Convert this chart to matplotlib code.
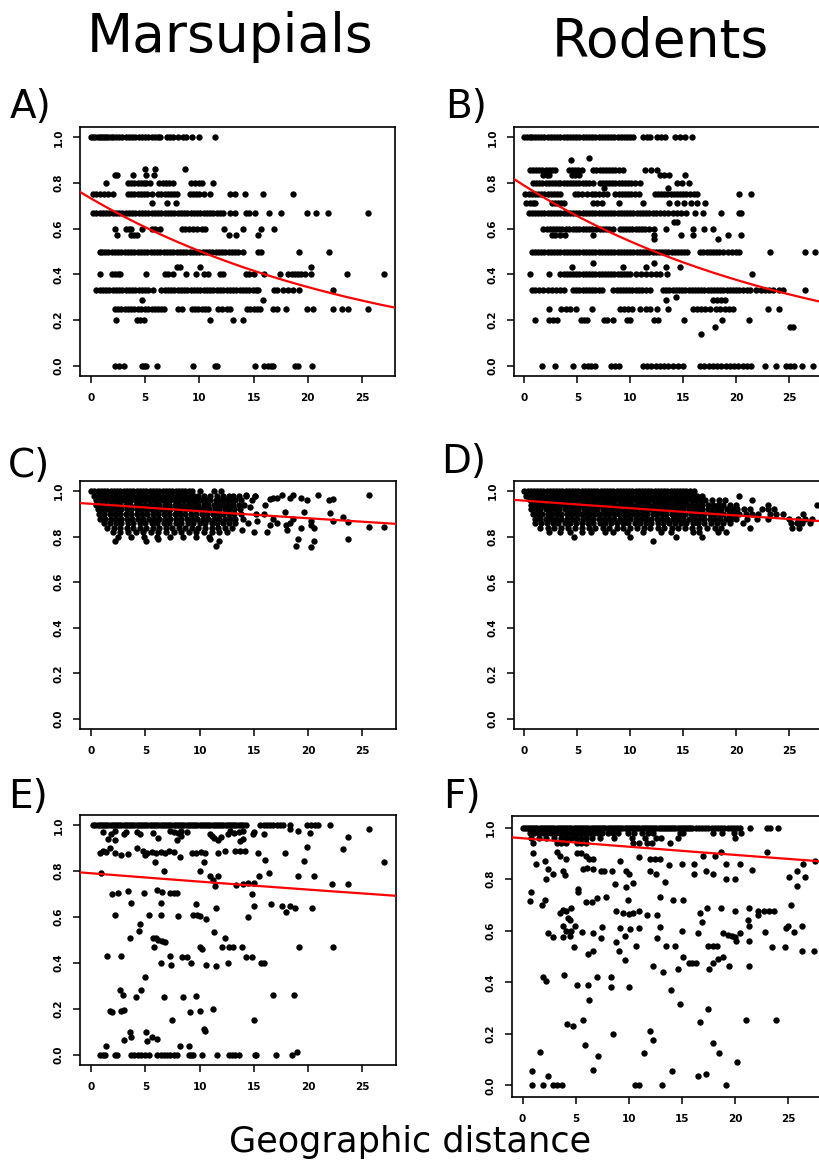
import numpy as np
import matplotlib
matplotlib.use("Agg")
import matplotlib.pyplot as plt

# ---- data ---------------------------------------------------------------
# rows: (similarity value, [geographic distances])
A_ROWS = [
    (1.0, [0.0, 0.2, 0.4, 0.6, 0.8, 1.0, 1.2, 1.4, 1.6, 1.8, 2.0, 2.3, 2.6, 2.9, 3.2, 3.5, 3.8, 4.1, 4.4,
           4.7, 5.0, 5.3, 5.6, 5.9, 6.2, 6.4, 7.0, 7.3, 7.6, 8.0, 8.5, 8.8, 9.3, 10.0, 11.4]),
    (0.86, [5.0, 5.9, 8.7]),
    (0.833, [2.2, 2.4, 3.9, 5.1, 5.8]),
    (0.8, [1.4, 3.4, 3.7, 4.0, 4.3, 4.6, 4.9, 5.1, 5.4, 6.3, 6.6, 6.9, 7.2, 7.6, 9.2, 9.6, 10.0, 10.2, 11.3]),
    (0.75, [0.2, 0.5, 0.8, 1.2, 1.6, 2.0, 3.4, 3.7, 4.0, 4.3, 4.6, 4.9, 5.2, 5.6, 6.2, 6.5, 6.8, 7.1, 7.4,
            7.7, 7.9, 9.1, 9.4, 9.7, 10.0, 10.4, 11.0, 12.8, 13.3, 14.2, 15.9, 18.6]),
    (0.714, [5.6, 7.0, 7.8]),
    (0.667, [0.2, 0.5, 0.8, 1.1, 1.4, 1.7, 2.0, 2.3, 2.6, 2.9, 3.2, 3.5, 3.8, 4.1, 4.4, 4.7, 5.0, 5.3, 5.6,
             5.9, 6.2, 6.5, 6.8, 7.1, 7.4, 7.7, 8.0, 8.3, 8.6, 8.9, 9.2, 9.5, 9.8, 10.1, 10.4, 10.7, 11.0,
             11.3, 11.6, 11.9, 12.2, 12.8, 13.3, 14.3, 14.6, 15.1, 16.4, 17.5, 19.9, 20.8, 21.9, 25.6]),
    (0.6, [2.2, 3.2, 3.5, 3.7, 4.7, 5.6, 5.9, 6.4, 8.4, 8.7, 9.0, 9.4, 9.8, 10.2, 10.5, 12.3, 14.0, 15.7, 16.9]),
    (0.571, [2.4, 3.7, 4.0, 4.2, 12.7, 13.4, 15.4]),
    (0.5, [0.8, 1.0, 1.3, 1.6, 1.9, 2.2, 2.5, 2.8, 3.1, 3.4, 3.7, 4.0, 4.3, 4.6, 4.9, 5.2, 5.5, 5.8, 6.1,
           6.4, 6.7, 7.0, 7.3, 7.6, 7.9, 8.2, 8.5, 8.8, 9.1, 9.4, 9.7, 10.0, 10.3, 10.6, 10.9, 11.2, 11.5,
           11.8, 12.1, 12.4, 12.7, 13.0, 13.3, 13.6, 14.0, 15.4, 15.7, 19.2, 22.0]),
    (0.43, [7.9, 8.2, 10.1, 20.3]),
    (0.4, [0.8, 1.9, 2.2, 2.5, 2.7, 5.1, 6.8, 7.1, 7.6, 8.8, 9.7, 10.4, 10.8, 11.9, 12.2, 14.3, 14.6, 15.0,
           16.0, 17.4, 18.2, 18.5, 18.8, 19.1, 19.4, 19.7, 20.3, 23.6, 27.0]),
    (0.333, [0.5, 0.8, 1.1, 1.4, 1.7, 2.0, 2.3, 2.6, 2.9, 3.2, 3.5, 3.8, 4.1, 4.4, 4.7, 5.0, 5.3, 5.7, 6.5,
             6.8, 7.1, 7.4, 7.7, 8.0, 8.3, 8.6, 8.9, 9.2, 9.5, 9.8, 10.1, 10.4, 10.7, 11.0, 11.3, 11.6, 11.9,
             12.2, 12.5, 12.8, 13.1, 13.4, 13.7, 14.0, 14.3, 14.6, 14.9, 15.2, 15.4, 16.9, 17.2, 17.7, 18.2,
             18.6, 19.2, 22.3]),
    (0.286, [4.7, 15.9]),
    (0.25, [2.2, 2.5, 2.8, 3.1, 3.4, 3.7, 4.0, 4.3, 4.6, 5.0, 5.3, 5.6, 5.9, 6.2, 6.5, 6.7, 8.0, 8.4, 9.3,
            9.6, 9.9, 10.2, 10.5, 10.8, 11.7, 12.1, 12.5, 12.8, 14.4, 14.7, 15.0, 15.3, 15.6, 16.8, 17.2,
            18.0, 19.9, 20.5, 22.3, 23.2, 23.7, 25.6]),
    (0.2, [2.3, 4.2, 4.5, 4.9, 11.0, 13.1, 14.0]),
    (0.0, [2.2, 2.6, 3.0, 4.7, 4.9, 5.1, 6.1, 9.4, 11.4, 11.6, 15.1, 16.0, 16.3, 16.6, 16.8, 18.8, 19.1, 20.4]),
]

B_ROWS = [
    (1.0, [0.0, 0.25, 0.5, 0.75, 1.0, 1.3, 1.6, 1.9, 2.2, 2.5, 2.8, 3.1, 3.4, 3.7, 4.0, 4.3, 4.6, 4.9, 5.2,
           5.5, 5.8, 6.1, 6.4, 6.7, 7.0, 7.3, 7.6, 7.9, 8.2, 8.5, 8.8, 9.1, 9.4, 9.7, 10.0, 10.3, 11.2,
           11.6, 11.9, 12.5, 12.9, 13.3, 14.2, 14.7, 15.2, 15.8]),
    (0.91, [6.1]),
    (0.9, [4.4]),
    (0.857, [0.5, 0.8, 1.1, 1.4, 1.7, 2.0, 2.3, 2.6, 2.9, 4.2, 4.5, 4.8, 5.1, 5.4, 6.5, 6.8, 7.1, 7.4, 7.7,
             8.0, 8.3, 8.6, 8.9, 9.3, 11.4, 12.0, 12.5]),
    (0.833, [1.8, 2.1, 2.3, 4.5, 4.8, 5.2, 12.8, 13.2, 13.7, 15.2]),
    (0.8, [0.8, 1.1, 1.4, 1.7, 2.0, 2.3, 2.6, 2.9, 3.2, 3.4, 3.7, 4.0, 4.3, 4.6, 4.9, 5.2, 5.5, 5.8, 6.1,
           6.5, 7.1, 7.4, 7.7, 8.0, 8.3, 8.6, 8.9, 9.2, 9.5, 9.8, 10.1, 10.4, 10.9, 14.4, 14.9, 15.5]),
    (0.78, [7.5, 13.6]),
    (0.75, [0.1, 0.4, 0.7, 1.0, 1.3, 1.6, 1.9, 2.2, 2.5, 2.8, 3.1, 3.4, 4.8, 5.1, 5.4, 5.9, 6.4, 6.7, 7.0,
            7.4, 7.8, 8.6, 8.9, 9.2, 9.5, 9.8, 10.1, 10.4, 10.8, 12.3, 12.6, 12.9, 13.2, 13.5, 13.8, 14.1,
            14.4, 14.7, 15.0, 15.3, 15.6, 16.0, 16.3, 20.3, 21.4]),
    (0.714, [0.2, 0.5, 0.8, 1.0, 2.6, 2.9, 3.2, 3.5, 3.7, 6.5, 6.9, 7.3, 8.9, 11.2, 13.7, 14.4, 15.1, 15.7,
             16.3, 17.1]),
    (0.667, [0.4, 0.7, 1.0, 1.3, 1.6, 1.9, 2.2, 2.5, 2.8, 3.1, 3.4, 3.7, 4.0, 4.3, 4.6, 4.9, 5.2, 5.5, 5.8,
             6.1, 6.4, 6.7, 7.0, 7.3, 7.6, 7.9, 8.2, 8.5, 8.8, 9.1, 9.4, 9.7, 10.0, 10.3, 10.6, 10.9, 11.2,
             11.5, 11.8, 12.1, 12.4, 12.8, 13.2, 13.6, 14.0, 14.4, 14.8, 15.3, 16.1, 16.9, 18.6, 20.3, 20.5]),
    (0.63, [14.1, 14.4]),
    (0.6, [1.8, 2.1, 2.4, 2.7, 3.0, 3.3, 3.6, 3.9, 4.2, 4.6, 4.9, 5.2, 5.5, 5.8, 6.1, 6.4, 6.8, 7.1, 7.4,
           7.7, 8.0, 8.4, 9.0, 9.3, 9.6, 9.9, 10.2, 10.5, 10.8, 11.1, 11.4, 11.8, 12.2, 13.4, 15.9, 17.0, 17.8]),
    (0.571, [2.6, 2.9, 3.4, 3.8, 6.5, 12.2, 14.8, 15.9, 19.2, 20.5]),
    (0.556, [12.2, 18.3]),
    (0.5, [0.7, 1.0, 1.3, 1.6, 1.9, 2.2, 2.5, 2.8, 3.1, 3.4, 3.7, 4.0, 4.3, 4.6, 4.9, 5.2, 5.5, 5.8, 6.1,
           6.4, 6.7, 7.0, 7.3, 7.6, 7.9, 8.2, 8.5, 8.8, 9.1, 9.4, 9.7, 10.0, 10.3, 10.6, 10.9, 11.2, 11.5,
           11.8, 12.1, 12.4, 12.7, 13.0, 13.3, 13.6, 13.9, 14.2, 14.5, 14.8, 15.1, 15.4, 16.6, 16.9, 17.2,
           17.5, 17.8, 18.1, 18.4, 18.8, 19.2, 19.6, 20.0, 20.3, 23.2, 26.5, 27.4]),
    (0.45, [6.5, 12.2]),
    (0.43, [4.5, 9.3, 11.5, 13.4, 14.7]),
    (0.4, [0.5, 2.3, 3.4, 3.7, 4.0, 4.3, 4.6, 4.9, 5.2, 5.5, 5.8, 6.1, 6.4, 6.7, 7.0, 7.3, 7.6, 7.9, 8.2,
           8.5, 8.8, 9.1, 9.4, 9.7, 10.0, 10.5, 11.0, 11.5, 12.0, 12.4, 12.8, 13.5, 21.5]),
    (0.333, [0.7, 1.0, 1.4, 1.8, 2.2, 2.6, 3.0, 3.4, 3.7, 4.6, 4.9, 5.2, 5.5, 5.8, 6.1, 6.4, 6.7, 7.0, 7.3,
             8.4, 8.7, 9.0, 9.3, 9.6, 9.9, 10.2, 10.5, 10.8, 11.1, 11.5, 11.9, 13.1, 13.4, 13.7, 14.0, 14.3,
             14.6, 14.9, 15.2, 15.5, 15.8, 16.1, 16.4, 16.7, 17.0, 17.3, 17.6, 17.9, 18.2, 18.5, 18.8, 19.1,
             19.4, 19.7, 20.0, 20.3, 20.6, 21.0, 21.3, 21.9, 22.3, 22.7, 23.1, 23.5, 24.0, 24.4, 26.5]),
    (0.3, [14.3]),
    (0.286, [13.4, 17.8, 18.2, 18.6, 18.9]),
    (0.25, [2.3, 3.5, 3.9, 4.3, 4.9, 6.4, 9.0, 9.4, 9.8, 10.2, 10.9, 11.5, 11.9, 12.5, 13.6, 15.9, 16.3,
            16.7, 17.1, 17.5, 18.1, 18.5, 18.9, 19.3, 19.7, 23.0, 24.0]),
    (0.2, [1.0, 2.3, 2.7, 3.1, 5.3, 5.6, 5.9, 7.5, 7.8, 8.4, 9.7, 10.0, 12.2, 12.6, 15.1, 18.7, 21.2]),
    (0.17, [18.0, 25.1, 25.4]),
    (0.14, [16.7]),
    (0.0, [1.7, 2.9, 4.6, 5.6, 6.0, 6.3, 6.7, 8.2, 8.6, 8.9, 11.2, 11.6, 12.0, 12.4, 12.8, 13.2, 13.6, 14.0,
           14.5, 15.0, 16.6, 17.0, 17.4, 17.8, 18.2, 18.6, 19.0, 19.4, 19.8, 20.2, 20.6, 21.0, 21.4, 22.7,
           23.8, 24.7, 25.1, 25.5, 26.2, 27.3]),
]

C_ROWS = [
    (1.0, [0.0, 0.3, 0.6, 0.9, 1.2, 1.5, 1.8, 2.1, 2.4, 2.7, 3.0, 3.3, 3.6, 3.9, 4.2, 4.5, 4.8, 5.1, 5.4,
           5.7, 6.0, 6.3, 6.6, 6.9, 7.2, 7.5, 7.8, 8.1, 8.4, 8.7, 9.0, 9.3, 10.0, 11.3, 12.0]),
    (0.98, [0.3, 0.7, 1.1, 1.5, 1.9, 2.3, 2.7, 3.1, 3.5, 3.9, 4.3, 4.7, 5.1, 5.5, 5.9, 6.3, 6.7, 7.1, 7.5,
            7.9, 8.3, 8.7, 9.1, 9.5, 9.9, 10.4, 11.0, 11.6, 12.2, 12.7, 13.1, 13.6, 14.3, 15.1]),
    (0.96, [0.5, 0.9, 1.3, 1.7, 2.1, 2.5, 2.9, 3.3, 3.7, 4.1, 4.5, 4.9, 5.3, 5.7, 6.1, 6.5, 6.9, 7.3, 7.7,
            8.1, 8.5, 8.9, 9.3, 9.7, 10.1, 10.6, 11.0, 11.5, 12.0, 12.4, 12.9, 13.3, 13.8]),
    (0.94, [0.5, 0.9, 1.4, 1.8, 2.3, 2.7, 3.2, 3.6, 4.1, 4.5, 5.0, 5.4, 5.9, 6.3, 6.8, 7.2, 7.7, 8.1, 8.6,
            9.0, 9.5, 9.9, 10.4, 10.8, 11.3, 11.7, 12.2, 12.6, 13.1, 13.6, 14.1]),
    (0.92, [0.6, 1.0, 1.5, 1.9, 2.4, 2.8, 3.3, 3.7, 4.2, 4.6, 5.1, 5.5, 6.0, 6.4, 6.9, 7.3, 7.8, 8.2, 8.7,
            9.1, 9.6, 10.0, 10.5, 10.9, 11.4, 11.8, 12.3, 12.7, 13.2, 13.7]),
    (0.9, [0.7, 1.2, 1.7, 2.2, 2.7, 3.2, 3.7, 4.2, 4.7, 5.2, 5.7, 6.2, 6.7, 7.2, 7.7, 8.2, 8.7, 9.2, 9.7,
           10.2, 10.7, 11.2, 11.7, 12.2, 12.7, 13.2, 13.8]),
    (0.88, [0.8, 1.3, 1.8, 2.3, 2.8, 3.3, 3.8, 4.3, 4.8, 5.3, 5.8, 6.3, 6.8, 7.3, 7.8, 8.3, 8.8, 9.3, 9.8,
            10.3, 10.8, 11.3, 11.8, 12.3, 12.8, 13.3, 14.0]),
    (0.86, [1.2, 1.7, 2.3, 2.8, 3.4, 3.9, 4.5, 5.0, 5.6, 6.1, 6.7, 7.2, 7.8, 8.3, 8.9, 9.4, 10.0, 10.5,
            11.1, 11.6, 12.2, 12.7, 13.3]),
    (0.84, [1.5, 2.1, 2.7, 3.3, 3.9, 4.5, 5.1, 5.7, 6.3, 6.9, 7.5, 8.1, 8.7, 9.3, 9.9, 10.5, 11.1, 11.7,
            12.3, 13.0]),
    (0.82, [2.0, 2.7, 3.4, 4.1, 4.8, 5.5, 6.2, 6.9, 7.6, 8.3, 9.0, 9.7, 10.4, 11.1, 11.8, 12.5]),
    (0.8, [2.5, 3.7, 4.9, 6.1, 7.3, 8.5, 9.7, 10.9]),
]
C_PTS = [
    (2.2, 0.78), (5.1, 0.78), (6.2, 0.79), (11.0, 0.79), (11.5, 0.76), (11.8, 0.78), (18.9, 0.76),
    (19.1, 0.79), (20.3, 0.755), (20.5, 0.78), (23.7, 0.79), (14.3, 0.985), (15.1, 0.98), (16.5, 0.965),
    (16.8, 0.97), (17.1, 0.97), (17.6, 0.985), (18.3, 0.97), (18.6, 0.985), (19.3, 0.97), (19.9, 0.96),
    (20.9, 0.985), (21.9, 0.96), (22.3, 0.965), (25.6, 0.985), (17.9, 0.91), (19.6, 0.91), (22.0, 0.905),
    (23.2, 0.885), (22.3, 0.87), (23.7, 0.865), (25.6, 0.845), (27.0, 0.845), (18.0, 0.85), (18.3, 0.86),
    (20.3, 0.85), (19.3, 0.84), (18.1, 0.83), (16.2, 0.82), (16.5, 0.85), (16.8, 0.88), (17.1, 0.86),
    (15.9, 0.9), (15.3, 0.87), (15.0, 0.82), (13.9, 0.83), (14.5, 0.86), (18.6, 0.88), (20.5, 0.84),
    (20.3, 0.87), (14.6, 0.93), (15.2, 0.9), (16.0, 0.94), (14.8, 0.96),
]

D_ROWS = [
    (1.0, [0.0, 0.3, 0.6, 0.9, 1.2, 1.5, 1.8, 2.1, 2.4, 2.7, 3.0, 3.3, 3.6, 3.9, 4.2, 4.5, 4.8, 5.1, 5.4,
           5.7, 6.0, 6.3, 6.6, 6.9, 7.2, 7.5, 7.8, 8.1, 8.4, 8.7, 9.0, 9.3, 9.6, 9.9, 10.2, 10.5, 10.8,
           11.1, 11.4, 11.7, 12.0, 12.3, 12.6, 12.9, 13.2, 13.5, 13.8, 14.1, 14.4, 14.7, 15.0, 15.3, 15.6,
           16.0]),
    (0.98, [0.2, 0.6, 1.0, 1.4, 1.8, 2.2, 2.6, 3.0, 3.4, 3.8, 4.2, 4.6, 5.0, 5.4, 5.8, 6.2, 6.6, 7.0, 7.4,
            7.8, 8.2, 8.6, 9.0, 9.4, 9.8, 10.2, 10.6, 11.0, 11.4, 11.8, 12.2, 12.6, 13.0, 13.4, 13.8, 14.2,
            14.6, 15.0, 15.4, 15.8, 16.3, 16.8, 20.3]),
    (0.96, [0.5, 0.9, 1.3, 1.7, 2.1, 2.5, 2.9, 3.3, 3.7, 4.1, 4.5, 4.9, 5.3, 5.7, 6.1, 6.5, 6.9, 7.3, 7.7,
            8.1, 8.5, 8.9, 9.3, 9.7, 10.1, 10.5, 10.9, 11.3, 11.7, 12.1, 12.5, 12.9, 13.3, 13.7, 14.1, 14.5,
            14.9, 15.3, 15.7, 16.1, 16.6, 17.1, 17.7, 18.4, 18.9, 21.5]),
    (0.94, [0.6, 1.0, 1.4, 1.8, 2.2, 2.6, 3.0, 3.4, 3.8, 4.2, 4.6, 5.0, 5.4, 5.8, 6.2, 6.6, 7.0, 7.4, 7.8,
            8.2, 8.6, 9.0, 9.4, 9.8, 10.2, 10.6, 11.0, 11.4, 11.8, 12.2, 12.6, 13.0, 13.4, 13.8, 14.2, 14.6,
            15.0, 15.4, 15.8, 16.3, 16.8, 17.3, 17.8, 18.3, 18.8, 19.4, 20.0, 23.0, 27.6]),
    (0.92, [0.6, 1.1, 1.5, 2.0, 2.4, 2.9, 3.3, 3.8, 4.2, 4.7, 5.1, 5.6, 6.0, 6.5, 6.9, 7.4, 7.8, 8.3, 8.7,
            9.2, 9.6, 10.1, 10.5, 11.0, 11.4, 11.9, 12.3, 12.8, 13.2, 13.7, 14.1, 14.6, 15.0, 15.5, 15.9,
            16.4, 16.8, 17.3, 17.7, 18.2, 18.6, 19.1, 19.6, 20.1, 20.7, 21.3, 22.4, 23.0, 23.6]),
    (0.9, [0.8, 1.3, 1.7, 2.2, 2.6, 3.1, 3.5, 4.0, 4.4, 4.9, 5.3, 5.8, 6.2, 6.7, 7.1, 7.6, 8.0, 8.5, 8.9,
           9.4, 9.8, 10.3, 10.7, 11.2, 11.6, 12.1, 12.5, 13.0, 13.4, 13.9, 14.3, 14.8, 15.2, 15.7, 16.1,
           16.6, 17.0, 17.5, 17.9, 18.4, 18.8, 19.3, 19.8, 20.3, 20.9, 21.5, 22.1, 23.2, 23.8, 24.4, 26.3]),
    (0.88, [1.0, 1.5, 2.0, 2.5, 3.0, 3.5, 4.0, 4.5, 5.0, 5.5, 6.0, 6.5, 7.0, 7.5, 8.0, 8.5, 9.0, 9.5, 10.0,
            10.5, 11.0, 11.5, 12.0, 12.5, 13.0, 13.5, 14.0, 14.5, 15.0, 15.5, 16.0, 16.5, 17.0, 17.5, 18.0,
            18.5, 19.0, 19.5, 20.0, 21.0, 22.0, 23.0, 25.0, 25.8, 26.5, 27.2]),
    (0.86, [1.0, 1.6, 2.1, 2.7, 3.2, 3.8, 4.3, 4.9, 5.4, 6.0, 6.5, 7.1, 7.6, 8.2, 8.7, 9.3, 9.8, 10.4,
            10.9, 11.5, 12.0, 12.6, 13.1, 13.7, 14.2, 14.8, 15.3, 15.9, 16.4, 17.0, 17.6, 18.2, 18.8, 19.4,
            20.6, 25.2, 25.7, 26.2, 27.0]),
    (0.84, [1.5, 2.2, 2.8, 3.5, 4.1, 4.8, 5.4, 6.1, 6.7, 7.4, 8.0, 8.7, 9.3, 10.0, 10.6, 11.3, 11.9, 12.6,
            13.2, 13.9, 14.5, 15.2, 15.8, 16.5, 17.2, 18.0, 18.6, 21.3, 25.3, 25.9]),
    (0.82, [2.3, 3.4, 4.3, 5.4, 6.3, 7.6, 8.4, 9.7, 11.2, 12.9, 13.8, 15.9, 16.5, 18.3, 19.0]),
    (0.8, [4.7, 10.0, 14.3, 16.8]),
    (0.78, [12.1]),
]

E_ROWS = [
    (1.0, [0.2, 0.4, 0.6, 0.8, 1.0, 1.2, 1.4, 1.6, 1.8, 2.0, 2.2, 2.4, 2.6, 2.8, 3.0, 3.2, 3.4, 3.6, 3.8,
           4.0, 4.2, 4.4, 4.6, 4.8, 5.0, 5.2, 5.4, 5.6, 5.8, 6.0, 6.2, 6.4, 6.6, 6.8, 7.0, 7.2, 7.4, 7.6,
           7.8, 8.0, 8.2, 8.4, 8.6, 8.8, 9.0, 9.2, 9.4, 9.6, 9.8, 10.0, 10.2, 10.4, 10.6, 10.8, 11.0, 11.2,
           11.4, 11.6, 11.8, 12.0, 12.2, 12.4, 12.6, 12.8, 13.0, 13.2, 13.4, 13.6, 13.8, 14.0, 14.3, 15.6,
           15.9, 16.2, 16.5, 16.8, 17.1, 17.4, 17.7, 18.3, 19.9, 20.3, 20.6, 20.9, 22.0]),
]
E_PTS = [
    (1.1, 0.97), (2.2, 0.975), (3.2, 0.97), (4.2, 0.97), (5.7, 0.965), (7.3, 0.975), (7.6, 0.97),
    (8.0, 0.965), (8.3, 0.975), (8.8, 0.97), (11.0, 0.96), (12.8, 0.975), (13.2, 0.965), (13.6, 0.97),
    (14.0, 0.975), (15.0, 0.97), (15.9, 0.96), (18.3, 0.985), (19.1, 0.975), (20.2, 0.965), (25.6, 0.985),
    (1.8, 0.96), (3.0, 0.96), (4.5, 0.96), (8.3, 0.955), (11.1, 0.955), (12.6, 0.96), (14.9, 0.96),
    (1.6, 0.94), (2.2, 0.935), (7.9, 0.935), (11.3, 0.945), (11.7, 0.935), (13.7, 0.93), (14.0, 0.94),
    (23.7, 0.95), (6.2, 0.945), (12.0, 0.95),
    (0.8, 0.88), (1.1, 0.89), (1.4, 0.885), (1.75, 0.9), (2.2, 0.88), (4.2, 0.9), (4.8, 0.89), (5.2, 0.88),
    (5.6, 0.885), (6.0, 0.88), (6.4, 0.885), (6.8, 0.88), (7.2, 0.89), (7.6, 0.885), (8.2, 0.86),
    (9.3, 0.88), (9.7, 0.88), (10.1, 0.885), (10.5, 0.88), (10.4, 0.84), (11.7, 0.88), (12.3, 0.89),
    (13.3, 0.89), (13.7, 0.89), (14.2, 0.89), (15.4, 0.88), (17.9, 0.88), (19.9, 0.905), (23.2, 0.895),
    (16.0, 0.85), (19.6, 0.845), (27.0, 0.84), (5.9, 0.84), (5.0, 0.87), (2.8, 0.87), (3.4, 0.875),
    (0.9, 0.79), (6.7, 0.8), (10.0, 0.8), (11.0, 0.78), (11.7, 0.78), (16.4, 0.79), (19.1, 0.78),
    (20.5, 0.78), (14.5, 0.75), (15.5, 0.78), (15.0, 0.75), (22.2, 0.745), (23.7, 0.745), (11.4, 0.735),
    (13.4, 0.74), (14.0, 0.745), (11.2, 0.76),
    (1.9, 0.7), (2.5, 0.705), (3.4, 0.715), (4.9, 0.705), (6.1, 0.72), (6.5, 0.71), (7.3, 0.705),
    (7.6, 0.705), (7.9, 0.705), (14.8, 0.7), (3.7, 0.66), (6.4, 0.66), (9.7, 0.655), (11.5, 0.64),
    (15.0, 0.65), (16.6, 0.655), (17.6, 0.65), (18.3, 0.65), (18.8, 0.64), (18.0, 0.62), (20.4, 0.64),
    (2.2, 0.61), (5.3, 0.61), (6.4, 0.61), (8.0, 0.605), (9.4, 0.61), (9.8, 0.61), (10.0, 0.605),
    (10.6, 0.59), (14.5, 0.6),
    (4.5, 0.57), (4.4, 0.54), (3.6, 0.51), (5.7, 0.51), (6.2, 0.5), (6.8, 0.49), (5.8, 0.47), (11.3, 0.535),
    (12.3, 0.51), (10.0, 0.47), (10.2, 0.46), (12.1, 0.47), (12.7, 0.47), (13.1, 0.47), (13.9, 0.47),
    (19.2, 0.47), (22.3, 0.47), (6.0, 0.51), (6.5, 0.495),
    (1.5, 0.43), (2.8, 0.43), (7.3, 0.43), (8.4, 0.425), (8.8, 0.425), (14.3, 0.425), (14.8, 0.425),
    (6.4, 0.4), (7.4, 0.39), (9.2, 0.4), (10.6, 0.39), (11.5, 0.385), (12.6, 0.4), (15.7, 0.4), (15.9, 0.4),
    (5.0, 0.34), (2.7, 0.28), (2.9, 0.26), (4.1, 0.25), (4.6, 0.28), (6.7, 0.25), (8.5, 0.25), (9.7, 0.255),
    (16.8, 0.26), (18.7, 0.26),
    (1.7, 0.19), (1.9, 0.185), (2.8, 0.19), (3.0, 0.195), (9.1, 0.185), (10.0, 0.19), (11.2, 0.2),
    (7.5, 0.15), (15.0, 0.15),
    (1.4, 0.04), (3.0, 0.065), (3.6, 0.1), (3.7, 0.075), (5.1, 0.1), (5.2, 0.06), (6.1, 0.07), (5.6, 0.075),
    (8.2, 0.04), (9.0, 0.04), (10.4, 0.11), (10.5, 0.105),
    (0.8, 0.0), (1.1, 0.0), (1.3, 0.0), (2.2, 0.0), (2.4, 0.0), (3.7, 0.0), (4.0, 0.0), (4.3, 0.0),
    (4.6, 0.0), (5.0, 0.0), (5.3, 0.0), (6.1, 0.0), (6.4, 0.0), (6.7, 0.0), (7.0, 0.0), (7.3, 0.0),
    (7.6, 0.0), (7.9, 0.0), (9.0, 0.0), (9.2, 0.0), (9.4, 0.0), (10.2, 0.0), (11.6, 0.0), (12.7, 0.0),
    (13.0, 0.0), (13.3, 0.0), (13.6, 0.0), (15.1, 0.0), (15.2, 0.0), (17.0, 0.0), (18.5, 0.0), (19.0, 0.01),
]

F_ROWS = [
    (1.0, [0.0, 0.2, 0.4, 0.6, 0.8, 1.0, 1.2, 1.4, 1.6, 1.8, 2.0, 2.2, 2.4, 2.6, 2.8, 3.0, 3.2, 3.4, 3.6,
           3.8, 4.0, 4.2, 4.4, 4.6, 4.8, 5.0, 5.2, 5.4, 5.6, 5.8, 6.0, 6.2, 6.4, 6.6, 6.8, 7.0, 7.2, 7.4,
           7.6, 7.8, 8.0, 8.2, 8.4, 8.6, 8.8, 9.0, 9.2, 9.4, 9.6, 9.8, 10.0, 10.2, 10.4, 10.6, 10.8, 11.0,
           11.2, 11.4, 11.6, 11.8, 12.0, 12.2, 12.4, 12.6, 12.8, 13.0, 13.2, 13.4, 13.6, 13.8, 14.0, 14.2,
           14.4, 14.6, 14.8, 15.0, 15.2, 15.4, 15.6, 15.8, 16.0, 16.3, 16.6, 16.9, 17.2, 17.5, 17.8, 18.1,
           18.4, 18.7, 19.0, 19.3, 19.6, 19.9, 20.2, 20.5, 21.4, 23.0, 23.3, 24.1]),
    (0.98, [0.7, 1.1, 1.5, 1.9, 2.3, 2.7, 3.1, 3.5, 3.9, 4.3, 4.7, 5.1, 5.5, 5.9, 6.3, 6.7, 7.1, 7.5, 8.0,
            8.5, 9.0, 9.9, 10.5, 11.2, 11.8, 12.3, 14.8, 15.1, 17.9, 18.8, 19.9, 20.6]),
    (0.96, [0.8, 1.5, 2.2, 3.0, 3.6, 4.1, 4.6, 5.0, 5.5, 6.0, 6.5, 7.3, 8.6, 10.3, 11.5, 12.6, 13.0, 14.6,
            20.0]),
    (0.94, [1.0, 3.2, 3.6, 4.1, 5.1, 5.5, 6.0, 10.4, 11.0, 11.7, 12.2, 13.9]),
]
F_PTS = [
    (1.0, 0.9), (1.3, 0.86), (3.2, 0.905), (3.5, 0.89), (4.1, 0.88), (5.1, 0.9), (5.5, 0.9), (6.0, 0.89),
    (6.3, 0.88), (6.6, 0.88), (11.0, 0.885), (12.0, 0.88), (12.5, 0.88), (12.9, 0.88), (18.7, 0.905),
    (23.0, 0.905), (17.0, 0.89), (18.1, 0.89),
    (2.1, 0.87), (2.4, 0.84), (2.9, 0.82), (3.8, 0.83), (4.0, 0.815), (5.7, 0.84), (6.1, 0.845), (6.6, 0.84),
    (7.4, 0.83), (7.7, 0.83), (8.4, 0.83), (9.2, 0.87), (9.7, 0.83), (10.0, 0.82), (12.0, 0.83), (12.6, 0.82),
    (13.4, 0.79), (13.8, 0.855), (15.0, 0.86), (16.1, 0.86), (16.1, 0.82), (17.3, 0.83), (17.9, 0.82),
    (19.2, 0.86), (20.5, 0.86), (21.6, 0.835), (25.1, 0.81), (25.8, 0.83), (26.4, 0.86), (26.6, 0.81),
    (27.5, 0.87),
    (2.2, 0.8), (8.7, 0.78), (9.7, 0.77), (10.4, 0.785), (19.2, 0.8), (20.0, 0.8), (25.8, 0.775),
    (0.8, 0.75), (0.7, 0.715), (1.8, 0.7), (2.1, 0.72), (5.2, 0.76), (5.25, 0.75), (6.0, 0.71), (6.5, 0.71),
    (7.0, 0.725), (7.9, 0.73), (12.9, 0.73), (14.2, 0.72), (15.1, 0.72), (9.9, 0.72), (25.3, 0.7),
    (3.5, 0.67), (3.8, 0.68), (4.1, 0.675), (4.6, 0.69), (8.8, 0.675), (9.5, 0.67), (10.0, 0.665),
    (10.4, 0.67), (11.0, 0.675), (11.7, 0.66), (12.7, 0.66), (16.7, 0.67), (17.4, 0.69), (18.7, 0.69),
    (20.0, 0.675), (21.3, 0.69), (22.2, 0.675), (22.7, 0.675), (23.2, 0.675), (23.7, 0.675), (22.2, 0.66),
    (16.9, 0.635), (21.2, 0.64), (4.3, 0.65), (4.5, 0.64),
    (2.4, 0.59), (2.9, 0.575), (3.8, 0.62), (4.1, 0.6), (4.6, 0.6), (4.9, 0.62), (5.6, 0.595), (6.6, 0.59),
    (7.5, 0.615), (7.4, 0.57), (3.8, 0.575), (4.5, 0.58), (9.2, 0.61), (9.6, 0.58), (10.1, 0.605),
    (11.0, 0.61), (12.9, 0.615), (15.0, 0.6), (16.5, 0.59), (18.9, 0.59), (19.3, 0.585), (19.7, 0.58),
    (20.0, 0.575), (20.1, 0.56), (20.5, 0.59), (21.3, 0.62), (22.8, 0.595), (24.8, 0.61), (25.0, 0.62),
    (25.6, 0.595), (26.3, 0.62),
    (4.8, 0.535), (8.8, 0.555), (9.1, 0.52), (10.7, 0.54), (12.7, 0.57), (13.5, 0.54), (14.4, 0.54),
    (15.1, 0.5), (15.7, 0.475), (16.0, 0.475), (16.3, 0.475), (17.5, 0.54), (17.9, 0.54), (18.3, 0.54),
    (23.5, 0.535), (24.7, 0.535), (26.3, 0.52), (27.4, 0.52), (6.2, 0.51), (6.6, 0.52), (9.6, 0.485),
    (12.3, 0.465), (14.6, 0.45), (17.6, 0.45), (17.9, 0.475), (18.4, 0.49), (18.9, 0.5), (19.4, 0.465),
    (21.3, 0.465), (13.2, 0.44), (21.3, 0.56),
    (1.9, 0.42), (2.2, 0.405), (3.9, 0.43), (5.1, 0.39), (6.2, 0.39), (7.0, 0.42), (8.3, 0.42), (8.3, 0.38),
    (10.0, 0.38), (14.0, 0.37),
    (6.3, 0.33), (14.8, 0.315), (17.5, 0.295), (4.2, 0.24), (4.7, 0.23), (5.7, 0.255), (16.7, 0.245),
    (21.0, 0.255), (23.9, 0.255),
    (8.5, 0.2), (12.0, 0.21), (12.3, 0.175), (1.6, 0.13), (5.9, 0.155), (7.1, 0.115), (11.4, 0.125),
    (17.9, 0.165), (18.5, 0.125), (20.2, 0.09),
    (0.9, 0.055), (2.4, 0.035), (6.6, 0.06), (14.1, 0.055), (16.5, 0.035), (17.3, 0.045),
    (0.9, 0.0), (1.9, 0.0), (2.9, 0.0), (3.2, 0.0), (3.7, 0.0), (10.6, 0.0), (11.0, 0.0), (13.1, 0.0),
    (19.2, 0.0),
]

# fitted decay curves y = a * exp(-b * x)
FITS = {"A": (0.732, 0.0377), "B": (0.788, 0.0370), "C": (0.9447, 0.00348),
        "D": (0.9586, 0.00352), "E": (0.791, 0.00472), "F": (0.9587, 0.00349)}

COL_TITLES = ["Marsupials", "Rodents"]
X_TICKS = [0, 5, 10, 15, 20, 25]
Y_TICKS = [0.0, 0.2, 0.4, 0.6, 0.8, 1.0]


def flatten(rows, pts=()):
    xs, ys = [], []
    for y, xlist in rows:
        xs += xlist
        ys += [y] * len(xlist)
    for x, y in pts:
        xs.append(x)
        ys.append(y)
    return np.array(xs), np.array(ys)


PANELS = {
    "A": flatten(A_ROWS), "B": flatten(B_ROWS),
    "C": flatten(C_ROWS, C_PTS), "D": flatten(D_ROWS),
    "E": flatten(E_ROWS, E_PTS), "F": flatten(F_ROWS, F_PTS),
}

W, H = 820, 1166
# pixel boxes: left, top, right, bottom ; plus x-limits
BOXES = {
    "A": (80, 127, 395, 376, (-1.02, 28.05)),
    "B": (514, 127, 823, 376, (-0.98, 28.2)),
    "C": (80, 481, 396, 729, (-1.02, 28.1)),
    "D": (514, 481, 823, 729, (-0.98, 28.2)),
    "E": (80, 815, 396, 1065, (-1.02, 28.1)),
    "F": (512, 816, 822, 1097, (-1.0, 28.2)),
}
LABEL_POS = {"A": (10, 107), "B": (445, 107), "C": (8, 466), "D": (441, 462),
             "E": (8, 797), "F": (443, 797)}


def main():
    fig = plt.figure(figsize=(W / 100, H / 100), dpi=100)

    for key, (l, t, r, b, xlim) in BOXES.items():
        ax = fig.add_axes([l / W, 1 - b / H, (r - l) / W, (b - t) / H])
        xs, ys = PANELS[key]
        ax.scatter(xs, ys, s=21, c="black", marker="o", linewidths=0, zorder=2)
        a, k = FITS[key]
        xx = np.linspace(xlim[0], xlim[1], 200)
        ax.plot(xx, a * np.exp(-k * xx), color="red", lw=1.6, zorder=3)
        ax.set_xlim(*xlim)
        ax.set_ylim(-0.045, 1.045)
        ax.set_xticks(X_TICKS)
        ax.set_xticklabels([str(v) for v in X_TICKS], fontweight="bold")
        ax.set_yticks(Y_TICKS)
        ax.set_yticklabels([f"{v:.1f}" for v in Y_TICKS], rotation=90, va="center",
                           fontweight="bold")
        ax.tick_params(labelsize=7.5, length=5, width=1.1)
        ax.tick_params(axis="x", pad=7)
        ax.tick_params(axis="y", pad=7)
        for sp in ax.spines.values():
            sp.set_linewidth(1.2)
        lx, ly = LABEL_POS[key]
        fig.text(lx / W, 1 - ly / H, key + ")", fontsize=28, ha="left", va="center")

    fig.text(230 / W, 1 - 37 / H, COL_TITLES[0], fontsize=38.5, ha="center", va="center")
    fig.text(660 / W, 1 - 42 / H, COL_TITLES[1], fontsize=38.5, ha="center", va="center")
    fig.text(410 / W, 1 - 1142 / H, "Geographic distance", fontsize=25.3, ha="center", va="center")

    fig.savefig("out.png", dpi=100)
    plt.close(fig)


if __name__ == "__main__":
    main()
